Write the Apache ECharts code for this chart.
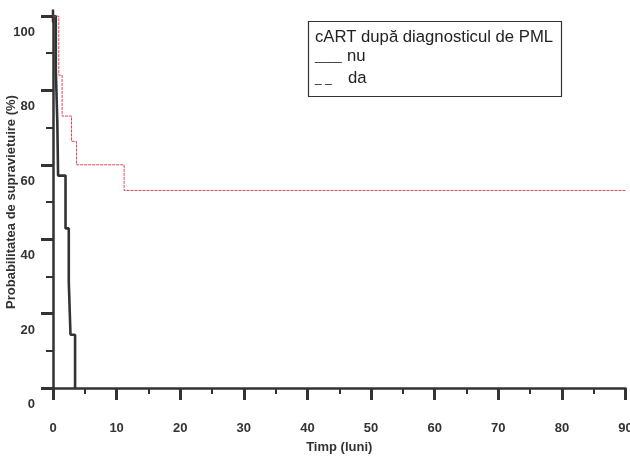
<!DOCTYPE html>
<html>
<head>
<meta charset="utf-8">
<script src="https://cdn.jsdelivr.net/npm/echarts@6/dist/echarts.min.js"></script>
<style>
html,body{margin:0;padding:0;background:#fff;}
#c{width:630px;height:456px;}
</style>
</head>
<body>
<div id="c"></div>
<script>
// ---- data ----
var nuTimes   = [0, 0.44, 0.68, 0.80, 1.97, 2.48, 2.75, 3.47];
var nuValues  = [100, 85.7, 71.4, 57.1, 42.9, 28.6, 14.3, 0];
var daTimes   = [0, 0.91, 1.43, 2.91, 3.69, 11.18, 90];
var daValues  = [100, 84.1, 73.1, 66.3, 60.0, 53.1, 53.1];
var xTicks    = [0, 10, 20, 30, 40, 50, 60, 70, 80, 90];
var yTicks    = [0, 20, 40, 60, 80, 100];
var legendTitle = 'cART după diagnosticul de PML';
var nameNu = 'nu';
var nameDa = 'da';
var xName = 'Timp (luni)';
var yName = 'Probabilitatea de supravietuire (%)';

function pairs(t, v) { return t.map(function (x, i) { return [x, v[i]]; }); }

var FONT = 'Arial, "Liberation Sans", sans-serif';
var INK = '#333';

var chart = echarts.init(document.getElementById('c'), null, {renderer: 'canvas'});
chart.setOption({
  animation: false,
  backgroundColor: '#fff',
  grid: {left: 53, right: 4.5, top: 16, bottom: 68, containLabel: false, outerBoundsMode: 'none'},
  xAxis: {
    type: 'value', min: xTicks[0], max: xTicks[xTicks.length - 1], interval: 10,
    name: xName, nameLocation: 'middle', nameGap: 53, nameMoveOverlap: false,
    nameTextStyle: {fontFamily: FONT, fontSize: 13, fontWeight: 'bold', color: INK},
    axisLine: {show: true, onZero: false, lineStyle: {color: INK, width: 2.5}},
    axisTick: {show: true, length: 12, lineStyle: {color: INK, width: 3}},
    minorTick: {show: true, splitNumber: 2, length: 6, lineStyle: {color: INK, width: 2}},
    axisLabel: {fontFamily: FONT, fontSize: 13, fontWeight: 'bold', color: INK, margin: 34,
      hideOverlap: false},
    splitLine: {show: false}, minorSplitLine: {show: false}
  },
  yAxis: {
    type: 'value', min: yTicks[0], max: yTicks[yTicks.length - 1], interval: 20,
    name: yName, nameLocation: 'middle', nameGap: 35, nameMoveOverlap: false,
    nameTextStyle: {fontFamily: FONT, fontSize: 13, fontWeight: 'bold', color: INK},
    axisLine: {show: true, onZero: false, symbol: ['none', 'rect'], symbolSize: [2.5, 13],
      lineStyle: {color: INK, width: 2.5}},
    axisTick: {show: true, length: 12, lineStyle: {color: INK, width: 3}},
    minorTick: {show: true, splitNumber: 2, length: 7, lineStyle: {color: INK, width: 2}},
    axisLabel: {fontFamily: FONT, fontSize: 13, fontWeight: 'bold', color: INK, margin: 18,
      verticalAlign: 'top', padding: [10, 0, 0, 0]},
    splitLine: {show: false}, minorSplitLine: {show: false}
  },
  series: [
    {
      name: nameNu, type: 'line', step: 'end', symbol: 'none', z: 2,
      data: pairs(nuTimes, nuValues),
      lineStyle: {color: '#333', width: 2.6, type: 'solid'}
    },
    {
      name: nameDa, type: 'line', step: 'end', symbol: 'none', z: 3,
      data: pairs(daTimes, daValues),
      lineStyle: {color: '#e04452', width: 1, type: [3, 1]}
    }
  ],
  graphic: [
    {type: 'rect', shape: {x: 308.5, y: 21.5, width: 253, height: 75},
      style: {fill: '#fff', stroke: '#333', lineWidth: 1.2}, z: 10},
    {type: 'text', x: 315, y: 37.5, z: 11,
      style: {text: legendTitle, font: '16.7px ' + FONT, fill: '#222', verticalAlign: 'middle'}},
    {type: 'text', x: 315, y: 57, z: 11,
      style: {text: '____', font: '12px ' + FONT, fill: '#222', verticalAlign: 'middle'}},
    {type: 'text', x: 347, y: 56.5, z: 11,
      style: {text: nameNu, font: '16.7px ' + FONT, fill: '#222', verticalAlign: 'middle'}},
    {type: 'text', x: 315, y: 78.5, z: 11,
      style: {text: '_ _', font: '12px ' + FONT, fill: '#222', verticalAlign: 'middle'}},
    {type: 'text', x: 348, y: 78, z: 11,
      style: {text: nameDa, font: '16.7px ' + FONT, fill: '#222', verticalAlign: 'middle'}}
  ]
});
</script>
</body>
</html>
